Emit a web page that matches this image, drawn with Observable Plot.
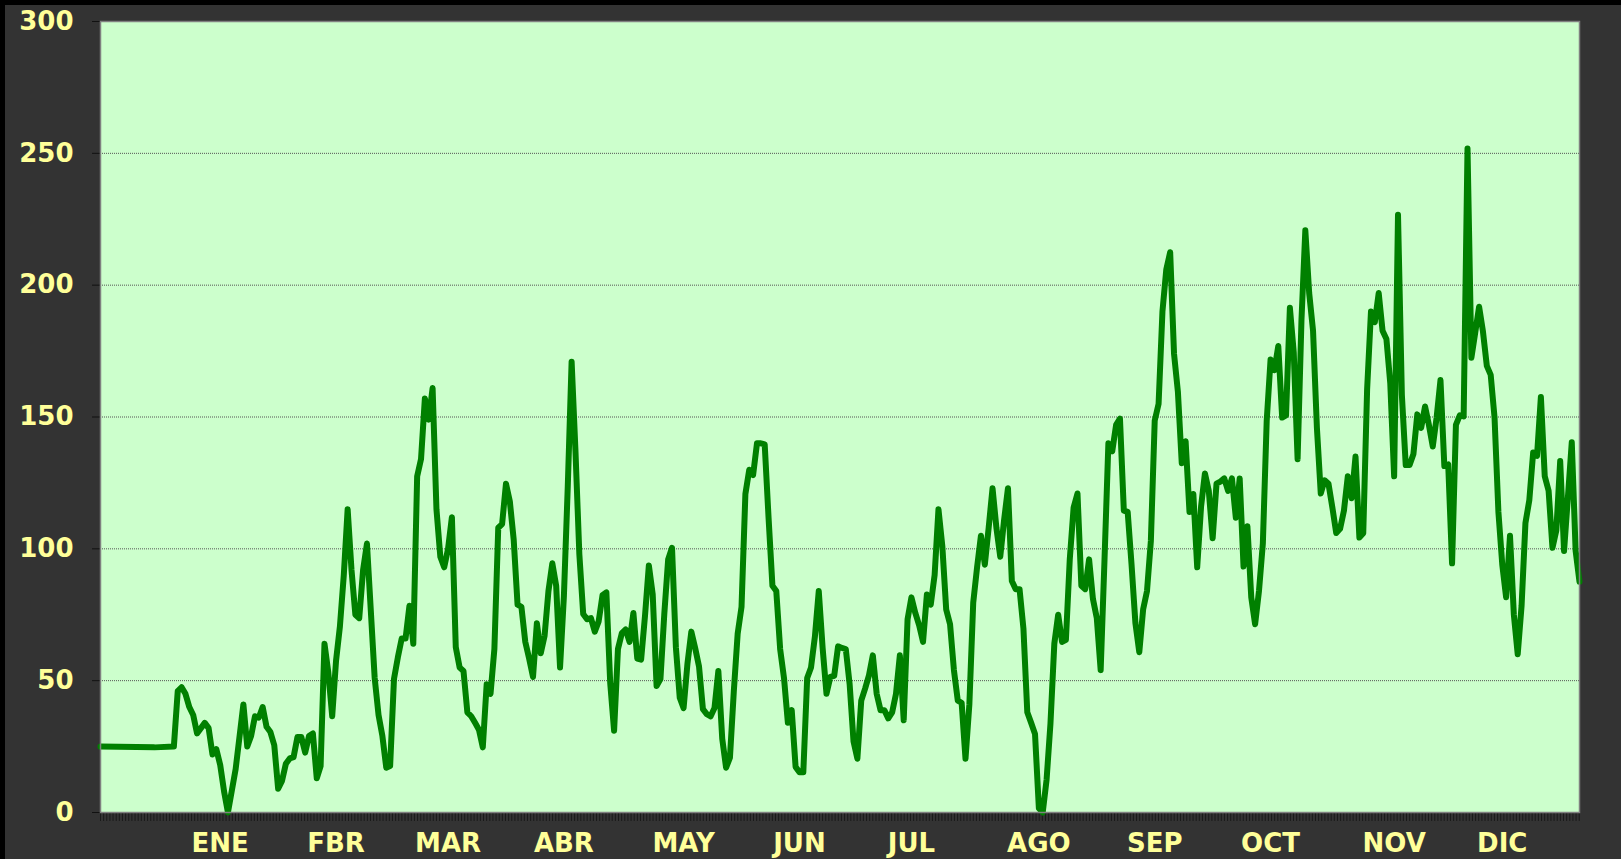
<!DOCTYPE html>
<html>
<head>
<meta charset="utf-8">
<script src="https://cdn.jsdelivr.net/npm/d3@7"></script>
<script src="https://cdn.jsdelivr.net/npm/@observablehq/plot@0.6"></script>
<style>
  html, body { margin: 0; padding: 0; background: #000; overflow: hidden; }
  #chart { position: absolute; left: 5px; top: 5px; }
</style>
</head>
<body>
<div id="chart"></div>
<script>
// Day index (from the start of the series) and value
const days = [0,14,19,20,21,22,23,24,25,27,28,29,30,31,32,33,35,37,38,39,40,41,42,43,44,45,46,47,48,49,50,51,52,53,54,55,56,57,58,59,60,61,62,63,64,65,66,67,68,69,70,71,72,73,74,75,76,77,78,79,80,81,82,83,84,85,86,87,88,89,90,91,92,93,94,95,96,97,98,99,100,101,102,103,104,105,106,107,108,109,110,111,112,113,114,115,116,117,118,119,120,121,122,123,124,125,126,127,128,129,130,131,132,133,134,135,136,137,138,139,140,141,142,143,144,145,146,147,148,149,150,151,152,153,154,155,156,157,158,159,160,161,162,163,164,165,166,167,168,169,170,171,172,173,174,175,176,177,178,179,180,181,182,183,184,185,186,187,188,189,190,191,192,193,194,195,196,197,198,199,200,201,202,203,204,205,206,207,208,209,210,211,212,213,214,215,216,217,218,219,220,221,222,223,224,225,226,227,228,229,230,231,232,233,234,235,236,237,238,239,240,241,242,243,244,245,246,247,248,249,250,251,252,253,254,255,256,257,258,259,260,261,262,263,264,265,266,267,268,269,270,271,272,273,274,275,276,277,278,279,280,281,282,283,284,285,286,287,288,289,290,291,292,293,294,295,296,297,298,299,300,301,302,303,304,305,306,307,308,309,310,311,312,313,314,315,316,317,318,319,320,321,322,323,324,325,326,327,328,329,330,331,332,333,334,335,336,337,338,339,340,341,342,343,344,345,346,347,348,349,350,351,352,353,354,355,356,357,358,359,360,361,362,363,364,365,366,367,368,369,370,371,372,373,374,375,376,377,378,379,380,381,382,383];
const values = [25,24.7,25,46,47.5,45,40,37,30,34,32,22,24,18,8,0,16.5,41,25,29,36.5,36,40,32.5,30.5,25.5,9,12,18.5,20.5,21,28.6,28.6,22.7,29,30,13,17.6,64,53,36.5,57.6,70.6,90,115,92,75,73.7,92,102,76.5,51,37,29,17,17.6,50.6,58.8,66,66,78.4,64,127.5,134,157,149,161,115,97,93,100,112,62.7,55,53.7,38,36.5,34,31.4,24.7,48.6,45,62,108,109.4,124.7,118,103.5,78.8,78,64.7,58.4,51.4,71.8,60.4,67,84,94.5,86,55,82,123.5,171,137,98,75.3,73.3,73.7,68.6,72.5,82.4,83.5,49,31,62,68,69.4,64.7,75.7,58.4,58,74.5,93.7,82.7,48,50.6,75.3,96,100.4,62.7,43.5,39.6,56.5,68.6,62.3,55.3,39.2,37.3,36.5,39.6,53.7,28,17,20.8,45.9,67.8,78,120.8,130,128,140,140,139.6,111.8,86,84,62,51,34,38.8,17.3,15.3,15.3,51,55,66.7,84,62.4,45,51.4,51.8,63,62.4,62,48.6,27,20.4,42.4,47,52,59.6,45,38.8,38.8,35.7,38,45,59.6,35,73.3,81.6,75.7,71,64.7,82.7,78.8,90,115,101,77,71.4,54,42.4,41.6,20.4,41,79.6,93,105,94,108,123,108,97,111,123,87.8,84.7,84.7,69.8,38,34,29.8,1.6,0,12.5,33.7,64,75,64.7,65.5,96,115.7,121,86,84.7,96,81,73.7,54,96,140,137,147,149.4,114.5,114,94,71.8,60.8,77,84,103,148.6,155,190,206,212.5,174,159.6,132.5,140.8,114,120.8,93,116,128.6,122,104,124.7,125.5,126.7,122,126.7,111.8,126.7,93.3,108.6,81.6,71.4,84,102,148.6,171.8,167.8,176.9,149.8,150.6,191.4,174.5,134,186.7,220.8,197,182.7,145.9,121,126,124.7,115.7,106,107.6,114.5,127.5,119.2,135,104.3,105.9,160.4,190,186,197,182.7,179.6,162.7,127.5,226.7,158.4,131.8,131.8,136,151,145.9,154,147,138.8,149.8,164,131.4,132,94.5,147,150.6,150.2,251.8,172.5,182,191.8,182.4,169.4,166,149.8,114,94,81.6,105,75,60,78.4,109.8,118.4,136.5,135.3,157.6,127.5,122,100.4,107,133.3,99.2,119.6,140.4,99.2,87.5];

// Axis content
const monthNames = ["ENE","FBR","MAR","ABR","MAY","JUN","JUL","AGO","SEP","OCT","NOV","DIC"];
const monthTicks = [31,61,90,120,151,181,210,243,273,303,335,363];
const yTicks = [0,50,100,150,200,250,300];
const gridTicks = [50,100,150,200,250];
const dayDomain = [0,383];

const data = days.map((d, i) => ({day: d, value: values[i]}));
const minorTicks = d3.range(dayDomain[0], dayDomain[1] + 0.01, 0.813);

const chart = Plot.plot({
  width: 1616,
  height: 854,
  marginLeft: 95,
  marginTop: 16,
  marginRight: 42,
  marginBottom: 47,
  style: {
    backgroundColor: "#333333",
    fontFamily: "'DejaVu Sans', Verdana, sans-serif",
    fontWeight: "bold",
    fontSize: "26px",
    overflow: "visible"
  },
  x: {domain: dayDomain, label: null},
  y: {domain: [0, 300], label: null},
  marks: [
    Plot.frame({fill: "#ccffcc", stroke: null}),
    Plot.gridY(gridTicks, {stroke: "#555", strokeOpacity: 1, strokeWidth: 1, strokeDasharray: "1,1"}),
    Plot.axisY({ticks: yTicks, tickSize: 8, tickPadding: 19, stroke: "#111", fill: "#ffff99", label: null, tickFormat: d => String(d)}),
    Plot.axisX({ticks: minorTicks, tickSize: 9, stroke: "#1a1a1a", tickFormat: () => "", label: null}),
    Plot.axisX({ticks: monthTicks, tickSize: 0, tickPadding: 21, fill: "#ffff99", label: null,
      tickFormat: d => monthNames[monthTicks.indexOf(d)]}),
    Plot.line(data, {x: "day", y: "value", stroke: "#008000", strokeWidth: 6, strokeLinejoin: "round", strokeLinecap: "round"}),
    Plot.frame({stroke: "#808080", strokeWidth: 1.5})
  ]
});
document.getElementById("chart").appendChild(chart);
</script>
</body>
</html>
